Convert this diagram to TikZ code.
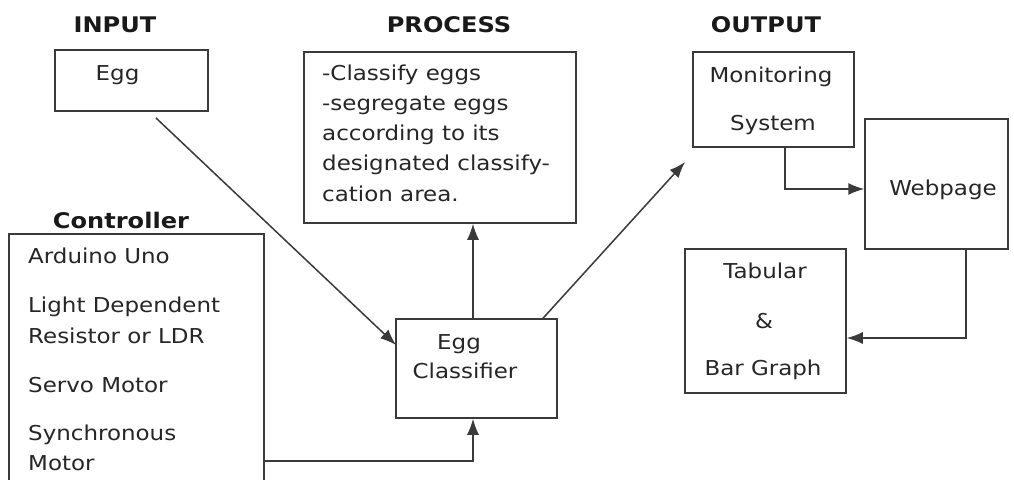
\documentclass[tikz,border=0pt]{standalone}
\usepackage{fontspec}
\setmainfont[FakeStretch=1.12]{DejaVu Sans}
\usetikzlibrary{arrows.meta}
\definecolor{ink}{HTML}{262626}
\definecolor{edge}{HTML}{3A3A3A}
\tikzset{
  box/.style={draw=edge, line width=1.5pt, rectangle, inner sep=0pt},
  txt/.style={text=ink, inner sep=0pt, font=\fontsize{20.5}{24}\selectfont},
  ttl/.style={text=black!90, inner sep=0pt, font=\fontsize{21.5}{24}\selectfont\bfseries},
  arr/.style={draw=edge, line width=1.5pt, -{Latex[length=16pt,width=12pt]}},
  ln/.style={draw=edge, line width=1.5pt}
}
\begin{document}
\begin{tikzpicture}[x=1pt,y=-1pt]
\useasboundingbox (0,0) rectangle (1014,479);
\fill[white] (0,0) rectangle (1014,479);
% boxes
\node[box, minimum width=153pt, minimum height=61pt] (egg) at (131.5,80.5) {};
\node[box, minimum width=272pt, minimum height=171pt] (proc) at (440,137.5) {};
\node[box, minimum width=255pt, minimum height=256pt] (ctrl) at (136.5,362) {};
\node[box, minimum width=161pt, minimum height=99pt] (cls) at (476.5,368.5) {};
\node[box, minimum width=161pt, minimum height=95pt] (mon) at (773.5,99.5) {};
\node[box, minimum width=143pt, minimum height=130pt] (web) at (936.5,184) {};
\node[box, minimum width=161pt, minimum height=144pt] (tab) at (765.5,321) {};
% titles
\node[ttl, anchor=base] (tin) at (115,32) {INPUT};
\node[ttl, anchor=base] (tpr) at (449,32) {PROCESS};
\node[ttl, anchor=base] (tout) at (766,32) {OUTPUT};
\node[ttl, anchor=base] (tctl) at (121,228) {Controller};
% texts
\node[txt, anchor=base] (teg) at (117.5,80) {Egg};
\node[txt, anchor=base west] (p1) at (322,80) {-Classify eggs};
\node[txt, anchor=base west] (p2) at (322,110) {-segregate eggs};
\node[txt, anchor=base west] (p3) at (322,140) {according to its};
\node[txt, anchor=base west] (p4) at (322,170) {designated classify-};
\node[txt, anchor=base west] (p5) at (322,201) {cation area.};
\node[txt, anchor=base west] (c1) at (28,263) {Arduino Uno};
\node[txt, anchor=base west] (c2) at (28,312) {Light Dependent};
\node[txt, anchor=base west] (c3) at (28,343) {Resistor or LDR};
\node[txt, anchor=base west] (c4) at (28,392) {Servo Motor};
\node[txt, anchor=base west] (c5) at (28,440) {Synchronous};
\node[txt, anchor=base west] (c6) at (28,470) {Motor};
\node[txt, anchor=base] (k1) at (459,349) {Egg};
\node[txt, anchor=base] (k2) at (465,378) {Classifier};
\node[txt, anchor=base] (m1t) at (771,82) {Monitoring};
\node[txt, anchor=base] (m2t) at (773,130) {System};
\node[txt, anchor=base] (wt) at (943,195) {Webpage};
\node[txt, anchor=base] (t1) at (765,278) {Tabular};
\node[txt, anchor=base] (t2) at (764,328) {\&};
\node[txt, anchor=base] (t3) at (763,375) {Bar Graph};
% connectors
\coordinate (es) at (156,118);
\coordinate (eh) at (396,345);
\draw[arr] (es) -- (eh);
\coordinate (vx) at (473,0);
\draw[arr] (cls.north -| vx) -- (proc.south -| vx);
\coordinate (kk) at (473,461);
\draw[arr] (ctrl.east |- kk) -- (kk) -- (cls.south -| kk);
\coordinate (ox) at (543,0);
\coordinate (otip) at (685,162);
\draw[arr] (cls.north -| ox) -- (otip);
\coordinate (mm) at (785,189);
\draw[arr] (mon.south -| mm) -- (mm) -- (web.west |- mm);
\coordinate (ww) at (966,338);
\draw[arr] (web.south -| ww) -- (ww) -- (tab.east |- ww);
\end{tikzpicture}
\end{document}
